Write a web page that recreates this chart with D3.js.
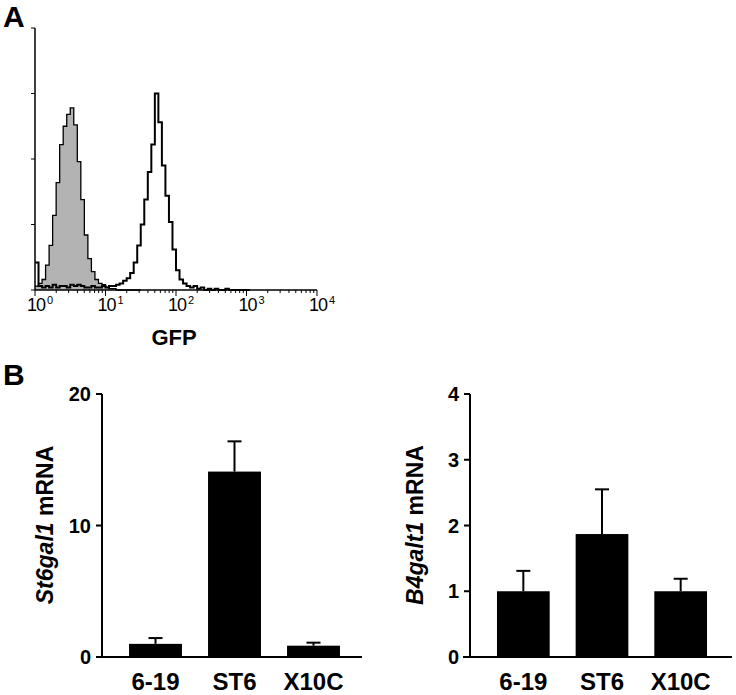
<!DOCTYPE html>
<html><head><meta charset="utf-8">
<script src="https://cdn.jsdelivr.net/npm/d3@7"></script>
<style>
html,body{margin:0;padding:0;background:#fff;}
svg{display:block;font-family:"Liberation Sans",Arial,sans-serif;}
</style></head>
<body>
<script>
// ---- Panel A: GFP flow histograms (bins of 0.05 decade starting at 10^0)
const binWidthLog = 0.05;
const controlCounts = [3,5,8,19,34,57,82,111,125,134,139,126,98,69,42,24,14,8,5,4,2,1,1,0,0,0,0,0,0,0];
const gfpCounts = [21,3,2,3,2,4,2,3,3,2,4,3,4,3,2,2,3,2,2,3,2,3,3,4,5,7,9,13,21,34,50,69,90,111,150,128,95,72,52,31,15,8,5,3,2,3,1,2,0,1,0,1,0,0,1,0,0,0,0,0,0];
const gfpTicks = [1,10,100,1000,10000];
const gfpExponents = ["0","1","2","3","4"];
const histYTicks = [0,50,100,150,200];

// ---- Panel B: qPCR bars
const categories = ["6-19","ST6","X10C"];
const st6Values = [1.0,14.1,0.86];
const st6Errors = [0.44,2.3,0.23];
const b4Values = [1.0,1.87,1.0];
const b4Errors = [0.31,0.68,0.19];
const st6Ticks = [0,10,20];
const b4Ticks = [0,1,2,3,4];

const W=736,H=695;
const svg=d3.select("body").append("svg").attr("width",W).attr("height",H);

// Panel letters
svg.append("text").attr("x",3).attr("y",27).attr("font-size",30).attr("font-weight","bold").text("A");
svg.append("text").attr("x",3).attr("y",385).attr("font-size",30).attr("font-weight","bold").text("B");

// ---------- Panel A
const xA=d3.scaleLog().domain([1,10000]).range([35,317]);
const yA=d3.scaleLinear().domain([0,200]).range([290,28]);

function stepPoints(counts){
  const pts=[];
  counts.forEach((c,i)=>{pts.push([Math.pow(10,i*binWidthLog),c]);});
  pts.push([Math.pow(10,counts.length*binWidthLog),counts[counts.length-1]]);
  return pts;
}
const area=d3.area().x(d=>xA(d[0])).y0(yA(0)).y1(d=>yA(d[1])).curve(d3.curveStepAfter);
const line=d3.line().x(d=>xA(d[0])).y(d=>yA(d[1])).curve(d3.curveStepAfter);
const cp=stepPoints(controlCounts);
const gp=stepPoints(gfpCounts);
svg.append("path").datum(cp).attr("d",area).attr("fill","#b3b3b3");
svg.append("path").datum(cp).attr("d",line).attr("fill","none").attr("stroke","#000").attr("stroke-width",1.3);
svg.append("path").datum(gp).attr("d",line).attr("fill","none").attr("stroke","#000").attr("stroke-width",2);

// y axis A
const gyA=svg.append("g");
gyA.append("line").attr("x1",35).attr("x2",35).attr("y1",yA(200)).attr("y2",yA(0)).attr("stroke","#000").attr("stroke-width",1.5);
gyA.selectAll("line.t").data(histYTicks).join("line").attr("class","t")
  .attr("x1",31).attr("x2",35).attr("y1",d=>yA(d)).attr("y2",d=>yA(d)).attr("stroke","#000").attr("stroke-width",1);
// x axis A
const gxA=svg.append("g");
gxA.append("line").attr("x1",xA(1)).attr("x2",xA(10000)).attr("y1",290).attr("y2",290).attr("stroke","#000").attr("stroke-width",1.5);
const minor=xA.ticks();
gxA.selectAll("line.m").data(minor).join("line").attr("class","m")
  .attr("x1",d=>xA(d)).attr("x2",d=>xA(d)).attr("y1",290)
  .attr("y2",d=>gfpTicks.includes(d)?296:293).attr("stroke","#000").attr("stroke-width",1);
const lab=gxA.selectAll("text").data(gfpTicks).join("text")
  .attr("x",d=>xA(d)-8).attr("y",311).attr("font-size",18).attr("letter-spacing",-1).attr("text-anchor","start");
lab.append("tspan").text("10");
lab.append("tspan").attr("dx",2).attr("dy",-7).attr("font-size",11).text((d,i)=>gfpExponents[i]);
svg.append("text").attr("x",174).attr("y",345).attr("text-anchor","middle").attr("font-size",22).attr("font-weight","bold").text("GFP");

// ---------- Panel B
function barChart(opt){
  const y=d3.scaleLinear().domain(opt.domain).range([657,394]);
  const x=d3.scaleBand().domain(categories).range(opt.band).paddingInner(0.33).paddingOuter(0.165);
  const g=svg.append("g");
  // error bars
  opt.values.forEach((v,i)=>{
    const cx=x(categories[i])+x.bandwidth()/2;
    const top=y(v+opt.errors[i]);
    g.append("line").attr("x1",cx).attr("x2",cx).attr("y1",y(v)).attr("y2",top).attr("stroke","#000").attr("stroke-width",2);
    g.append("line").attr("x1",cx-7).attr("x2",cx+7).attr("y1",top).attr("y2",top).attr("stroke","#000").attr("stroke-width",2);
  });
  g.selectAll("rect").data(opt.values).join("rect")
    .attr("x",(d,i)=>x(categories[i])).attr("width",x.bandwidth())
    .attr("y",d=>y(d)).attr("height",d=>y(0)-y(d)).attr("fill","#000");
  // axes
  g.append("line").attr("x1",opt.axisX).attr("x2",opt.axisX).attr("y1",y(opt.domain[1])).attr("y2",y(0)).attr("stroke","#000").attr("stroke-width",2);
  g.append("line").attr("x1",opt.xLine[0]).attr("x2",opt.xLine[1]).attr("y1",y(0)).attr("y2",y(0)).attr("stroke","#000").attr("stroke-width",2);
  g.selectAll("line.t").data(opt.ticks).join("line").attr("class","t")
    .attr("x1",opt.axisX-6).attr("x2",opt.axisX).attr("y1",d=>y(d)).attr("y2",d=>y(d)).attr("stroke","#000").attr("stroke-width",2);
  g.selectAll("text.t").data(opt.ticks).join("text").attr("class","t")
    .attr("x",opt.axisX-11).attr("y",d=>y(d)+7).attr("text-anchor","end")
    .attr("font-size",20).attr("font-weight","bold").text(d=>d);
  g.selectAll("text.c").data(categories).join("text").attr("class","c")
    .attr("x",d=>x(d)+x.bandwidth()/2).attr("y",690).attr("text-anchor","middle")
    .attr("font-size",24).attr("font-weight","bold").text(d=>d);
  const yl=g.append("text").attr("transform",`translate(${opt.labelX},525) rotate(-90)`)
    .attr("text-anchor","middle").attr("font-size",23).attr("font-weight","bold");
  yl.append("tspan").attr("font-style","italic").text(opt.gene);
  yl.append("tspan").text(" mRNA");
}
barChart({domain:[0,20],band:[116,353],values:st6Values,errors:st6Errors,ticks:st6Ticks,axisX:102,xLine:[96,362],labelX:53,gene:"St6gal1"});
barChart({domain:[0,4],band:[484,720],values:b4Values,errors:b4Errors,ticks:b4Ticks,axisX:470,xLine:[463,732],labelX:423,gene:"B4galt1"});
</script>
</body></html>
